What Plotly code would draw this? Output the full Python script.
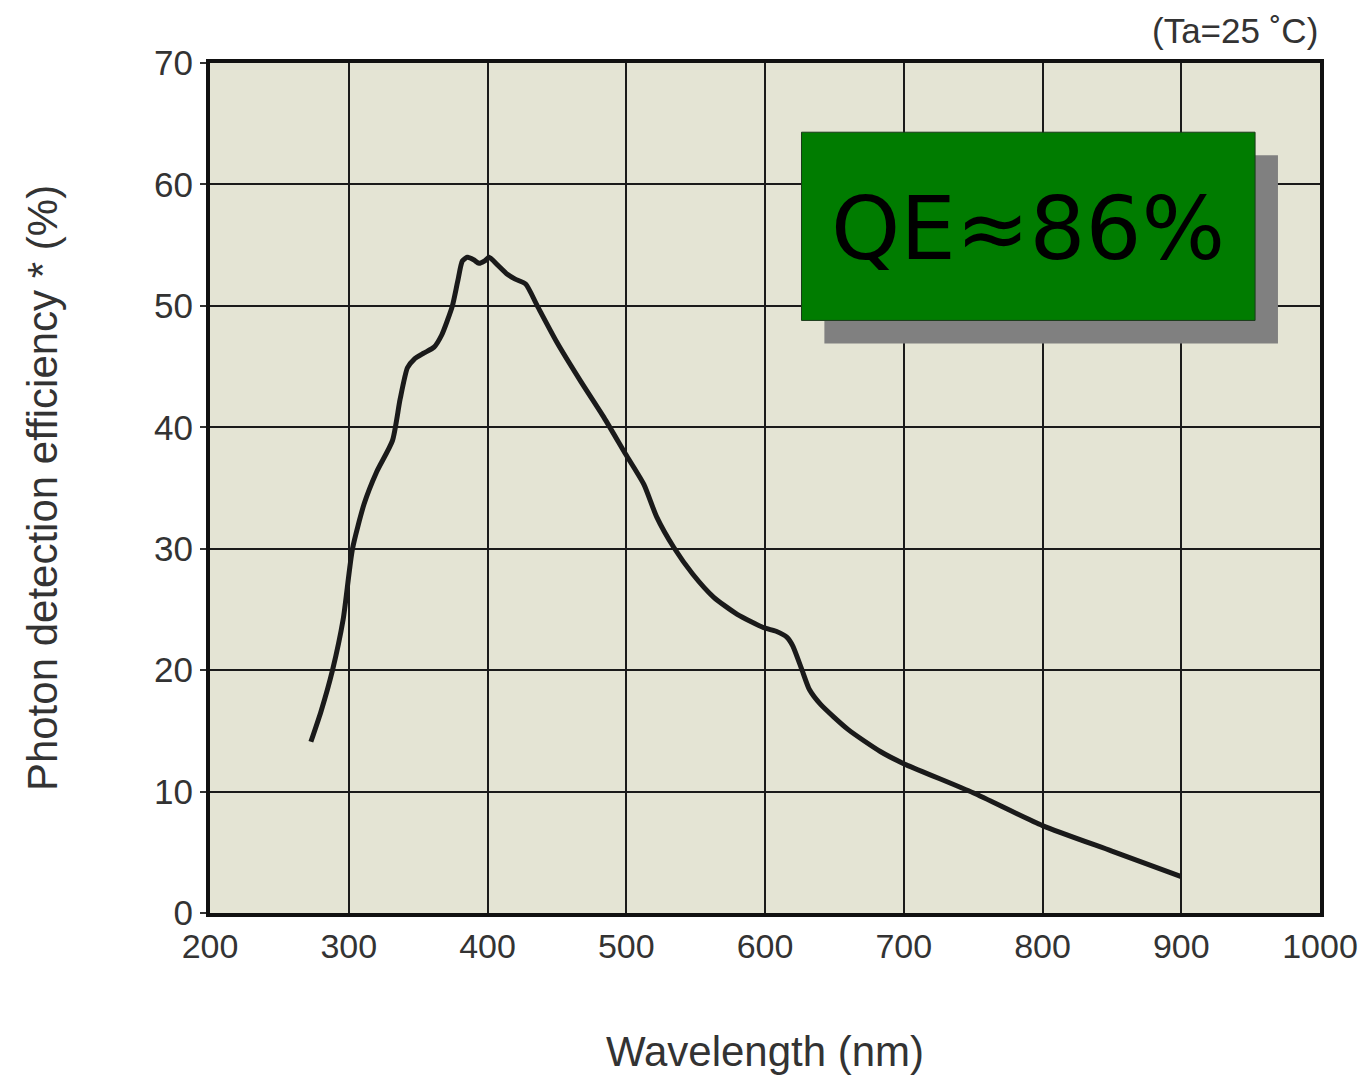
import plotly.graph_objects as go

wavelength = [272.7, 280, 288.3, 296, 302.7, 311.1, 320, 331.5, 337, 342.3, 347.1, 354, 361.5, 367, 371.1, 374.7, 378.5, 381.9, 385.5, 390, 393.9, 398, 401.1, 407, 414.3, 420, 427.5, 435.9, 450, 467.1, 484, 499.5, 512.7, 522, 534.3, 548, 563.1, 580, 599.1, 608, 615.9, 620, 626.7, 632, 639.9, 660, 683.1, 700, 750, 800, 850, 900]
pde = [14.1, 16.6, 20.0, 24.2, 30.0, 33.7, 36.3, 38.9, 42.3, 44.9, 45.6, 46.1, 46.6, 47.6, 48.8, 50.0, 52.0, 53.7, 54.0, 53.8, 53.5, 53.7, 54.0, 53.4, 52.6, 52.2, 51.8, 50.0, 47.0, 43.8, 40.8, 37.8, 35.3, 32.6, 30.1, 27.9, 26.0, 24.6, 23.5, 23.2, 22.7, 22.0, 20.0, 18.4, 17.2, 15.1, 13.3, 12.3, 9.9, 7.2, 5.1, 3.0]

x_ticks = [200, 300, 400, 500, 600, 700, 800, 900, 1000]
y_ticks = [0, 10, 20, 30, 40, 50, 60, 70]

fig = go.Figure()
fig.add_trace(go.Scatter(
    x=wavelength, y=pde, mode="lines",
    line=dict(color="#1a1a1a", width=5, shape="spline", smoothing=0.6),
    showlegend=False, hoverinfo="skip"))

# shadow and green box
fig.add_shape(type="rect", xref="x", yref="y", x0=642.8, x1=969.7, y0=46.9, y1=62.4,
              fillcolor="#808080", line=dict(width=0), layer="above")
fig.add_shape(type="rect", xref="x", yref="y", x0=626.3, x1=953.2, y0=48.8, y1=64.3,
              fillcolor="#007c00", line=dict(color="#1a3a1a", width=1), layer="above")
fig.add_annotation(x=789.8, y=56.4, xref="x", yref="y", text="QE≈86%", showarrow=False,
                   font=dict(family="DejaVu Sans", size=88, color="#000000"))

fig.add_annotation(x=1.0, y=1.0, xref="paper", yref="paper", xanchor="right", yanchor="bottom",
                   yshift=11, text="(Ta=25 ˚C)", showarrow=False,
                   font=dict(family="Liberation Sans", size=35, color="#333333"))

axis_common = dict(showline=True, linecolor="#111111", linewidth=4, mirror=True,
                   showgrid=True, gridcolor="#1a1a1a", gridwidth=2, zeroline=False,
                   tickcolor="#333333", tickwidth=2, automargin=False)

fig.update_xaxes(range=[200, 1000], tickvals=x_ticks, ticktext=[str(v) for v in x_ticks],
                 ticks="", 
                 tickfont=dict(family="Liberation Sans", size=34, color="#333333"),
                 title=dict(text="Wavelength (nm)", standoff=74,
                            font=dict(family="Liberation Sans", size=42, color="#333333")),
                 **axis_common)
fig.update_yaxes(range=[0, 70], tickvals=y_ticks, ticktext=[str(v) for v in y_ticks],
                 ticks="outside", ticklen=6,
                 tickfont=dict(family="Liberation Sans", size=35, color="#333333"),
                 title=dict(text="Photon detection efficiency * (%)", standoff=84,
                            font=dict(family="Liberation Sans", size=42, color="#333333")),
                 **axis_common)

fig.update_layout(width=1368, height=1080,
                  margin=dict(l=202, r=56, t=55, b=175),
                  plot_bgcolor="#e4e4d4", paper_bgcolor="#ffffff")

fig.write_html("out.html")
